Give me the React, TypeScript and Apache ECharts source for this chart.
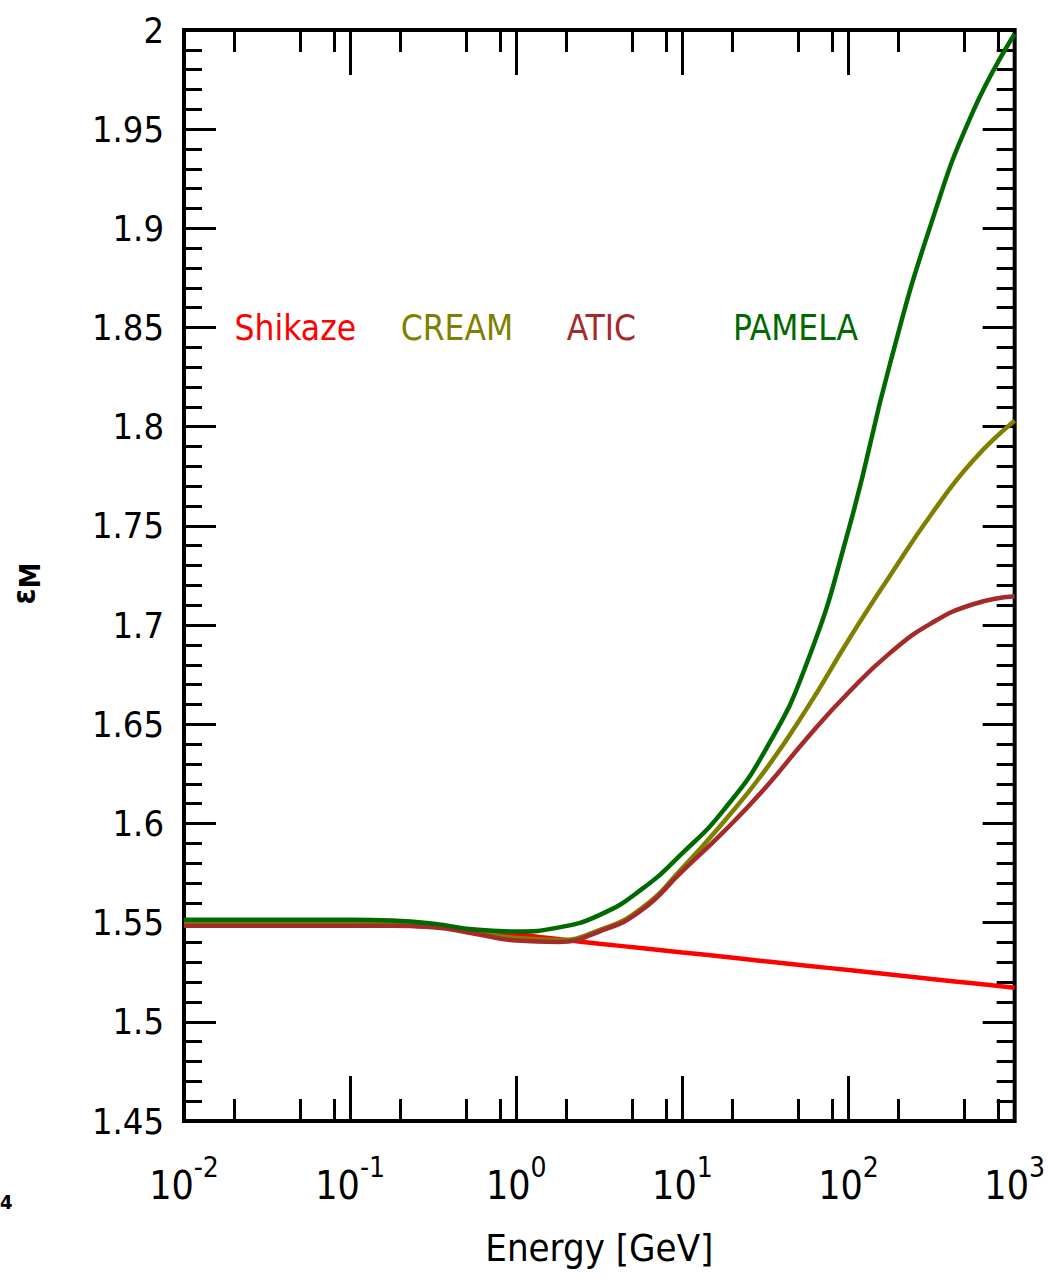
import React, { useEffect, useRef } from "react";
import * as echarts from "echarts";

// Energy grid [GeV], quarter-decade steps from 10^-2 to 10^3
const energies = [
  0.01, 0.0178, 0.0316, 0.0562, 0.1, 0.178, 0.316, 0.562, 1, 1.78, 3.16, 5.62,
  10, 17.8, 31.6, 56.2, 100, 178, 316, 562, 1000,
];

// epsilon_M for each cosmic-ray spectrum model
const shikaze = [
  1.5484, 1.5485, 1.5486, 1.5487, 1.5488, 1.5487, 1.5479, 1.5462, 1.5441, 1.5417,
  1.5394, 1.5372, 1.535, 1.5328, 1.5305, 1.5283, 1.5261, 1.5239, 1.5216, 1.5194,
  1.5172,
];
const cream = [
  1.5495, 1.5495, 1.5495, 1.5495, 1.5495, 1.5494, 1.5483, 1.5455, 1.5422, 1.5413,
  1.5462, 1.557, 1.5775, 1.601, 1.627, 1.658, 1.6925, 1.725, 1.756, 1.783, 1.803,
];
const atic = [
  1.5484, 1.5484, 1.5484, 1.5484, 1.5484, 1.5484, 1.5477, 1.5444, 1.541, 1.5403,
  1.5455, 1.556, 1.576, 1.596, 1.618, 1.643, 1.666, 1.686, 1.701, 1.7105, 1.7145,
];
const pamela = [
  1.5515, 1.5515, 1.5515, 1.5515, 1.5515, 1.5511, 1.5495, 1.5465, 1.5455, 1.5475,
  1.5538, 1.5665, 1.585, 1.607, 1.637, 1.681, 1.748, 1.832, 1.903, 1.959, 1.998,
];

const seriesNames = ["Shikaze", "CREAM", "ATIC", "PAMELA"];
const seriesColors = ["#ff0000", "#808000", "#a52a2a", "#006a00"];
const seriesValues = [shikaze, cream, atic, pamela];
// where each model's name is written, in data coordinates
const nameLabelEnergy = [0.02, 0.2, 2, 20];
const nameLabelValue = 1.85;

// minor ticks on the log axis at 2, 5 and 8 of each decade
const decades = [0.01, 0.1, 1, 10, 100];
const minorSteps = [2, 5, 8];
const xMinorTicks = decades.flatMap((d) => minorSteps.map((m) => +(d * m).toPrecision(3)));

const FONT = '"DejaVu Sans Condensed", "DejaVu Sans", sans-serif';
const BLACK = "#000";

export default function App() {
  const ref = useRef<HTMLDivElement>(null);

  useEffect(() => {
    if (!ref.current) return;
    const chart = echarts.init(ref.current, undefined, { renderer: "svg" });

    const tickStyle = { color: BLACK, width: 3 };
    const xBase = {
      type: "log",
      logBase: 10,
      min: 0.01,
      max: 1000,
      gridIndex: 0,
      splitLine: { show: false },
      axisLine: { show: false, onZero: false },
    };
    const yBase = {
      type: "value",
      min: 1.45,
      max: 2,
      interval: 0.05,
      splitLine: { show: false },
      axisLine: { show: false, onZero: false },
      axisTick: { inside: true, length: 32, lineStyle: tickStyle },
      minorTick: { show: true, splitNumber: 5, length: 18, lineStyle: tickStyle },
    };

    const option = {
      animation: false,
      backgroundColor: "#fff",
      grid: {
        left: 182,
        top: 30,
        right: 33,
        bottom: 165,
        show: true,
        borderColor: BLACK,
        borderWidth: 4,
        backgroundColor: "transparent",
      },
      xAxis: [
        {
          ...xBase,
          position: "bottom",
          axisTick: { inside: true, length: 45, lineStyle: tickStyle },
          axisLabel: {
            margin: 32,
            formatter: (v: number) => `{b|10}{s|${Math.round(Math.log10(v))}}`,
            rich: {
              b: { fontSize: 39, fontFamily: FONT, color: BLACK, lineHeight: 52, verticalAlign: "bottom" },
              s: { fontSize: 28, fontFamily: FONT, color: BLACK, lineHeight: 28, verticalAlign: "top" },
            },
          },
          name: "Energy [GeV]",
          nameLocation: "middle",
          nameGap: 108,
          nameTextStyle: { fontSize: 38, fontFamily: FONT, color: BLACK },
        },
        {
          ...xBase,
          position: "bottom",
          axisTick: { inside: true, length: 22, customValues: xMinorTicks, lineStyle: tickStyle },
          axisLabel: { show: false },
        },
        {
          ...xBase,
          position: "top",
          axisTick: { inside: true, length: 45, lineStyle: tickStyle },
          axisLabel: { show: false },
        },
        {
          ...xBase,
          position: "top",
          axisTick: { inside: true, length: 22, customValues: xMinorTicks, lineStyle: tickStyle },
          axisLabel: { show: false },
        },
      ],
      yAxis: [
        {
          ...yBase,
          position: "left",
          axisLabel: { margin: 20, fontSize: 36, fontFamily: FONT, color: BLACK },
          name: "{e|ε}{m|M}",
          nameLocation: "middle",
          nameRotate: 90,
          nameGap: 140,
          nameTextStyle: {
            fontSize: 30,
            fontWeight: "bold",
            fontFamily: FONT,
            color: BLACK,
            padding: [0, 16, 0, 0],
            rich: {
              e: { fontSize: 32, fontFamily: FONT, fontWeight: "bold", color: BLACK, lineHeight: 36, verticalAlign: "top" },
              m: { fontSize: 29, fontFamily: FONT, fontWeight: "bold", color: BLACK, lineHeight: 36, verticalAlign: "bottom" },
            },
          },
        },
        {
          ...yBase,
          position: "right",
          axisLabel: { show: false },
        },
      ],
      series: seriesNames.map((name, k) => ({
        type: "line",
        name,
        xAxisIndex: 0,
        yAxisIndex: 0,
        data: energies.map((e, i) => [e, seriesValues[k][i]]),
        symbol: "none",
        showSymbol: false,
        smooth: 0.5,
        z: 2 + k,
        lineStyle: { color: seriesColors[k], width: 4.5 },
        itemStyle: { color: seriesColors[k] },
        markPoint: {
          silent: true,
          symbol: "rect",
          symbolSize: 1,
          itemStyle: { color: "rgba(0,0,0,0)" },
          label: {
            show: true,
            position: "right",
            distance: 0,
            formatter: name,
            color: seriesColors[k],
            fontSize: 35,
            fontFamily: FONT,
          },
          data: [{ coord: [nameLabelEnergy[k], nameLabelValue] }],
        },
      })),
      graphic: [
        {
          type: "text",
          left: 0,
          top: 1192,
          style: { text: "4", fontSize: 20, fontWeight: "bold", fontFamily: FONT, fill: BLACK },
        },
      ],
    };

    chart.setOption(option as any);
    return () => chart.dispose();
  }, []);

  return (
    <div
      ref={ref}
      style={{ position: "absolute", left: 0, top: 0, width: 1048, height: 1286 }}
    />
  );
}
